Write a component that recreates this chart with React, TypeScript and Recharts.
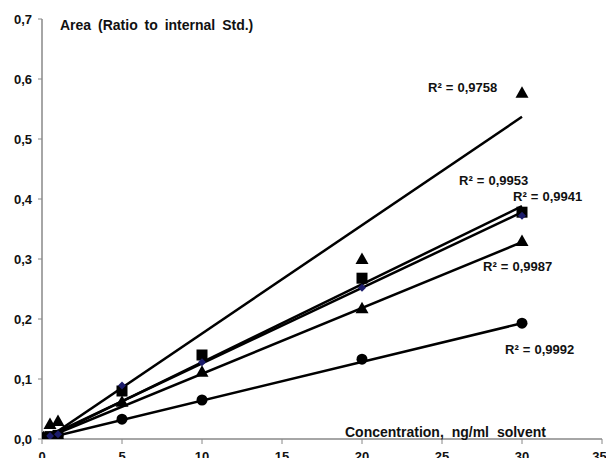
import React from 'react';
import { ScatterChart, Scatter, XAxis, YAxis } from 'recharts';

// Concentrations (ng/ml solvent) and measured area ratios
const concA = [0.1, 0.5, 1, 20, 30];
const valA = [0.003, 0.025, 0.03, 0.3, 0.577];
const concB = [0.1, 0.5, 1, 5, 10, 20, 30];
const valB = [0.002, 0.004, 0.006, 0.08, 0.14, 0.268, 0.378];
const concC = [0.1, 0.5, 1, 5, 10, 20, 30];
const valC = [0.002, 0.005, 0.008, 0.089, 0.128, 0.252, 0.372];
const concD = [0.1, 0.5, 1, 5, 10, 20, 30];
const valD = [0.001, 0.003, 0.006, 0.062, 0.112, 0.218, 0.33];
const concE = [0.1, 0.5, 1, 5, 10, 20, 30];
const valE = [0.001, 0.003, 0.006, 0.033, 0.065, 0.133, 0.193];

// Linear trendlines: values at the ends of the concentration range
const trendX = [0.1, 30];
const trendA = [-0.003, 0.537];
const trendB = [-0.001, 0.388];
const trendC = [0.001, 0.378];
const trendD = [0.0, 0.328];
const trendE = [0.0, 0.193];

const r2Labels = ['R² = 0,9758', 'R² = 0,9953', 'R² = 0,9941', 'R² = 0,9987', 'R² = 0,9992'];
const xTicks = [0, 5, 10, 15, 20, 25, 30, 35];
const yTicks = [0, 0.1, 0.2, 0.3, 0.4, 0.5, 0.6, 0.7];
const yTitle = 'Area (Ratio to internal Std.)';
const xTitle = 'Concentration, ng/ml solvent';

const zip = (xs: number[], ys: number[]) => xs.map((x, i) => ({ x, y: ys[i] }));

const Triangle = (p: any) => (
  <path d={`M${p.cx},${p.cy - 6.5} L${p.cx + 6.5},${p.cy + 5} L${p.cx - 6.5},${p.cy + 5} Z`} fill="#000" />
);
const Square = (p: any) => <rect x={p.cx - 5.5} y={p.cy - 5.5} width={11} height={11} fill="#000" />;
const Diamond = (p: any) => (
  <path d={`M${p.cx},${p.cy - 4} L${p.cx + 4},${p.cy} L${p.cx},${p.cy + 4} L${p.cx - 4},${p.cy} Z`} fill="#1c1c6b" />
);
const Dot = (p: any) => <circle cx={p.cx} cy={p.cy} r={5.5} fill="#000" />;
const NoShape = () => <g />;

const fontFamily = '"Liberation Sans", Arial, sans-serif';
const fmt = (v: number) => v.toFixed(1).replace('.', ',');

const labelStyle = (left: number, cy: number, size = 13, ws = 0.5): React.CSSProperties => ({
  position: 'absolute',
  left,
  top: cy - 7,
  fontFamily,
  fontWeight: 'bold',
  fontSize: size,
  lineHeight: '14px',
  wordSpacing: ws,
  color: '#111',
  whiteSpace: 'pre',
});

export default function App() {
  const lineStyle = { stroke: '#000', strokeWidth: 2.5 };
  return (
    <div style={{ position: 'absolute', left: 0, top: 0, width: 606, height: 458, background: '#fff', overflow: 'hidden' }}>
      <ScatterChart width={606} height={458} margin={{ top: 19, right: 4, bottom: 0, left: 6 }}>
        <XAxis
          type="number"
          dataKey="x"
          domain={[0, 35]}
          ticks={xTicks}
          height={19}
          tickSize={5}
          tickMargin={8}
          axisLine={{ stroke: '#888', strokeWidth: 1.5 }}
          tickLine={{ stroke: '#888' }}
          tick={{ fontSize: 13, fontWeight: 'bold', fill: '#111', fontFamily }}
          allowDataOverflow
        />
        <YAxis
          type="number"
          dataKey="y"
          domain={[0, 0.7]}
          ticks={yTicks}
          width={36}
          tickSize={4}
          tickMargin={6}
          tickFormatter={fmt}
          axisLine={{ stroke: '#888', strokeWidth: 1.5 }}
          tickLine={{ stroke: '#888' }}
          tick={{ fontSize: 13, fontWeight: 'bold', fill: '#111', fontFamily }}
          allowDataOverflow
        />
        <Scatter data={zip(trendX, trendA)} line={lineStyle} shape={NoShape} isAnimationActive={false} />
        <Scatter data={zip(trendX, trendB)} line={lineStyle} shape={NoShape} isAnimationActive={false} />
        <Scatter data={zip(trendX, trendC)} line={lineStyle} shape={NoShape} isAnimationActive={false} />
        <Scatter data={zip(trendX, trendD)} line={lineStyle} shape={NoShape} isAnimationActive={false} />
        <Scatter data={zip(trendX, trendE)} line={lineStyle} shape={NoShape} isAnimationActive={false} />
        <Scatter data={zip(concE, valE)} shape={Dot} isAnimationActive={false} />
        <Scatter data={zip(concD, valD)} shape={Triangle} isAnimationActive={false} />
        <Scatter data={zip(concB, valB)} shape={Square} isAnimationActive={false} />
        <Scatter data={zip(concC, valC)} shape={Diamond} isAnimationActive={false} />
        <Scatter data={zip(concA, valA)} shape={Triangle} isAnimationActive={false} />
      </ScatterChart>
      <div style={labelStyle(60, 25, 14, 3)}>{yTitle}</div>
      <div style={labelStyle(345, 432, 14, 4)}>{xTitle}</div>
      <div style={labelStyle(428, 88)}>{r2Labels[0]}</div>
      <div style={labelStyle(459, 181)}>{r2Labels[1]}</div>
      <div style={labelStyle(513, 197)}>{r2Labels[2]}</div>
      <div style={labelStyle(483, 267)}>{r2Labels[3]}</div>
      <div style={labelStyle(505, 350)}>{r2Labels[4]}</div>
    </div>
  );
}
